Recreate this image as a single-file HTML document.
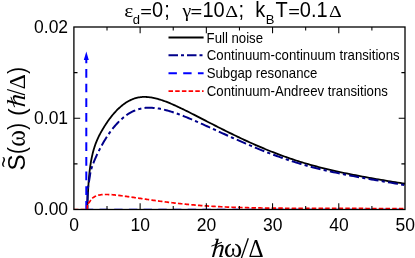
<!DOCTYPE html>
<html><head><meta charset="utf-8"><title>noise</title><style>
html,body{margin:0;padding:0;background:#fff;}
svg{display:block;will-change:transform;font-family:"Liberation Sans",sans-serif;fill:#000;}
.gr{font-family:"Liberation Serif",serif;}
</style></head><body>
<svg width="415" height="258" viewBox="0 0 415 258">
<rect width="415" height="258" fill="#fff"/>
<path d="M73.90 209.20 H87.30" stroke="#f00" stroke-width="1.5" stroke-opacity="0.5" stroke-dasharray="4.5 2.2" fill="none"/>
<path d="M87.30 209.20 H405.00" stroke="#00f" stroke-width="1.5" stroke-opacity="0.5" stroke-dasharray="8.4 6.3" stroke-dashoffset="2.5" fill="none"/>
<path d="M87.30 209.50 L87.30 209.16 L87.32 208.56 L87.34 207.73 L87.38 206.67 L87.42 205.42 L87.47 203.98 L87.53 202.39 L87.60 200.64 L87.68 198.77 L87.77 196.80 L87.87 194.74 L87.98 192.61 L88.10 190.42 L88.23 188.21 L88.37 185.98 L88.51 183.76 L88.67 181.56 L88.83 179.40 L89.01 177.31 L89.19 175.29 L89.39 173.35 L89.59 171.47 L89.81 169.66 L90.03 167.92 L90.26 166.23 L90.50 164.59 L90.75 163.00 L91.01 161.46 L91.28 159.95 L91.56 158.50 L91.85 157.08 L92.15 155.70 L92.46 154.35 L92.77 153.04 L93.10 151.77 L93.44 150.53 L93.78 149.32 L94.14 148.14 L94.50 146.99 L94.88 145.86 L95.26 144.76 L95.65 143.68 L96.06 142.62 L96.47 141.59 L96.89 140.57 L97.32 139.57 L97.76 138.59 L98.21 137.62 L98.67 136.66 L99.14 135.71 L99.62 134.78 L100.11 133.85 L100.60 132.92 L101.11 132.01 L101.63 131.09 L102.15 130.18 L102.69 129.27 L103.23 128.36 L103.79 127.44 L104.35 126.53 L104.92 125.62 L105.51 124.71 L106.10 123.81 L106.70 122.90 L107.31 122.00 L107.93 121.11 L108.56 120.22 L109.20 119.34 L109.85 118.46 L110.51 117.59 L111.17 116.73 L111.85 115.88 L112.54 115.04 L113.23 114.21 L113.94 113.39 L114.66 112.58 L115.38 111.78 L116.11 111.00 L116.86 110.23 L117.61 109.47 L118.37 108.73 L119.15 108.01 L119.93 107.30 L120.72 106.61 L121.52 105.93 L122.33 105.28 L123.15 104.64 L123.98 104.03 L124.81 103.43 L125.66 102.86 L126.52 102.31 L127.39 101.78 L128.26 101.27 L129.15 100.79 L130.04 100.34 L130.95 99.91 L131.86 99.50 L132.79 99.12 L133.72 98.77 L134.66 98.45 L135.61 98.16 L136.57 97.90 L137.54 97.66 L138.53 97.46 L139.52 97.29 L140.51 97.15 L141.52 97.05 L142.54 96.97 L143.57 96.93 L144.61 96.92 L145.65 96.94 L146.71 96.99 L147.77 97.06 L148.85 97.17 L149.93 97.30 L151.03 97.46 L152.13 97.64 L153.24 97.85 L154.37 98.09 L155.50 98.35 L156.64 98.63 L157.79 98.94 L158.95 99.27 L160.12 99.63 L161.30 100.00 L162.49 100.40 L163.69 100.81 L164.90 101.25 L166.11 101.71 L167.34 102.18 L168.58 102.67 L169.82 103.18 L171.08 103.71 L172.34 104.25 L173.61 104.81 L174.90 105.38 L176.19 105.97 L177.49 106.57 L178.81 107.19 L180.13 107.82 L181.46 108.46 L182.80 109.11 L184.15 109.77 L185.51 110.45 L186.88 111.13 L188.25 111.82 L189.64 112.52 L191.04 113.23 L192.45 113.94 L193.86 114.67 L195.29 115.40 L196.72 116.13 L198.17 116.87 L199.62 117.62 L201.08 118.37 L202.56 119.13 L204.04 119.89 L205.53 120.66 L207.03 121.43 L208.54 122.21 L210.06 122.99 L211.59 123.78 L213.13 124.56 L214.68 125.35 L216.24 126.15 L217.81 126.94 L219.38 127.74 L220.97 128.54 L222.57 129.35 L224.17 130.15 L225.79 130.96 L227.41 131.76 L229.05 132.57 L230.69 133.38 L232.34 134.18 L234.00 134.99 L235.68 135.80 L237.36 136.61 L239.05 137.41 L240.75 138.22 L242.46 139.02 L244.18 139.82 L245.91 140.62 L247.64 141.42 L249.39 142.21 L251.15 143.01 L252.92 143.80 L254.69 144.58 L256.48 145.36 L258.27 146.14 L260.08 146.92 L261.89 147.69 L263.71 148.45 L265.55 149.21 L267.39 149.97 L269.24 150.72 L271.10 151.47 L272.97 152.21 L274.85 152.94 L276.74 153.66 L278.64 154.38 L280.55 155.10 L282.47 155.80 L284.40 156.50 L286.33 157.19 L288.28 157.87 L290.24 158.55 L292.20 159.21 L294.18 159.87 L296.16 160.51 L298.15 161.15 L300.16 161.78 L302.17 162.40 L304.19 163.01 L306.22 163.61 L308.27 164.20 L310.32 164.78 L312.38 165.35 L314.45 165.91 L316.53 166.47 L318.61 167.01 L320.71 167.55 L322.82 168.08 L324.94 168.61 L327.06 169.12 L329.20 169.63 L331.34 170.13 L333.50 170.63 L335.66 171.12 L337.84 171.60 L340.02 172.07 L342.21 172.54 L344.42 173.01 L346.63 173.47 L348.85 173.92 L351.08 174.37 L353.32 174.81 L355.57 175.25 L357.83 175.68 L360.10 176.11 L362.38 176.54 L364.66 176.96 L366.96 177.38 L369.27 177.80 L371.58 178.21 L373.91 178.62 L376.24 179.02 L378.59 179.43 L380.94 179.83 L383.30 180.23 L385.68 180.63 L388.06 181.02 L390.45 181.41 L392.85 181.81 L395.26 182.20 L397.68 182.59 L400.11 182.98 L402.55 183.37 L405.00 183.76" stroke="#000" stroke-width="1.8" fill="none"/>
<path d="M87.30 209.50 L87.30 206.44 L87.32 203.67 L87.34 201.17 L87.38 198.93 L87.42 196.91 L87.47 195.11 L87.53 193.49 L87.60 192.04 L87.68 190.74 L87.77 189.57 L87.87 188.51 L87.98 187.53 L88.10 186.61 L88.23 185.74 L88.37 184.90 L88.51 184.06 L88.67 183.20 L88.83 182.30 L89.01 181.34 L89.19 180.31 L89.39 179.17 L89.59 177.92 L89.81 176.52 L90.03 174.97 L90.26 173.43 L90.50 172.08 L90.75 170.91 L91.01 169.88 L91.28 168.96 L91.56 168.10 L91.85 167.26 L92.15 166.42 L92.46 165.57 L92.77 164.72 L93.10 163.86 L93.44 162.99 L93.78 162.12 L94.14 161.24 L94.50 160.36 L94.88 159.47 L95.26 158.58 L95.65 157.68 L96.06 156.77 L96.47 155.86 L96.89 154.95 L97.32 154.03 L97.76 153.11 L98.21 152.19 L98.67 151.26 L99.14 150.33 L99.62 149.39 L100.11 148.45 L100.60 147.51 L101.11 146.56 L101.63 145.61 L102.15 144.66 L102.69 143.71 L103.23 142.76 L103.79 141.81 L104.35 140.86 L104.92 139.91 L105.51 138.96 L106.10 138.02 L106.70 137.08 L107.31 136.14 L107.93 135.20 L108.56 134.28 L109.20 133.35 L109.85 132.44 L110.51 131.53 L111.17 130.63 L111.85 129.73 L112.54 128.85 L113.23 127.97 L113.94 127.11 L114.66 126.25 L115.38 125.41 L116.11 124.58 L116.86 123.76 L117.61 122.95 L118.37 122.16 L119.15 121.38 L119.93 120.62 L120.72 119.88 L121.52 119.15 L122.33 118.43 L123.15 117.74 L123.98 117.06 L124.81 116.40 L125.66 115.76 L126.52 115.14 L127.39 114.54 L128.26 113.96 L129.15 113.41 L130.04 112.87 L130.95 112.36 L131.86 111.88 L132.79 111.41 L133.72 110.98 L134.66 110.56 L135.61 110.18 L136.57 109.82 L137.54 109.49 L138.53 109.19 L139.52 108.91 L140.51 108.67 L141.52 108.45 L142.54 108.26 L143.57 108.10 L144.61 107.97 L145.65 107.87 L146.71 107.79 L147.77 107.74 L148.85 107.72 L149.93 107.72 L151.03 107.75 L152.13 107.80 L153.24 107.88 L154.37 107.98 L155.50 108.10 L156.64 108.25 L157.79 108.42 L158.95 108.61 L160.12 108.82 L161.30 109.05 L162.49 109.31 L163.69 109.58 L164.90 109.87 L166.11 110.19 L167.34 110.52 L168.58 110.87 L169.82 111.23 L171.08 111.62 L172.34 112.02 L173.61 112.44 L174.90 112.87 L176.19 113.32 L177.49 113.79 L178.81 114.27 L180.13 114.76 L181.46 115.27 L182.80 115.79 L184.15 116.32 L185.51 116.87 L186.88 117.43 L188.25 117.99 L189.64 118.57 L191.04 119.16 L192.45 119.77 L193.86 120.38 L195.29 120.99 L196.72 121.62 L198.17 122.26 L199.62 122.90 L201.08 123.55 L202.56 124.21 L204.04 124.88 L205.53 125.55 L207.03 126.23 L208.54 126.91 L210.06 127.60 L211.59 128.30 L213.13 129.00 L214.68 129.71 L216.24 130.42 L217.81 131.13 L219.38 131.85 L220.97 132.57 L222.57 133.30 L224.17 134.03 L225.79 134.76 L227.41 135.50 L229.05 136.23 L230.69 136.97 L232.34 137.72 L234.00 138.46 L235.68 139.20 L237.36 139.95 L239.05 140.69 L240.75 141.44 L242.46 142.18 L244.18 142.93 L245.91 143.68 L247.64 144.42 L249.39 145.16 L251.15 145.91 L252.92 146.65 L254.69 147.38 L256.48 148.12 L258.27 148.85 L260.08 149.58 L261.89 150.31 L263.71 151.04 L265.55 151.76 L267.39 152.47 L269.24 153.18 L271.10 153.89 L272.97 154.59 L274.85 155.29 L276.74 155.98 L278.64 156.67 L280.55 157.35 L282.47 158.02 L284.40 158.69 L286.33 159.35 L288.28 160.01 L290.24 160.65 L292.20 161.29 L294.18 161.92 L296.16 162.54 L298.15 163.16 L300.16 163.76 L302.17 164.36 L304.19 164.94 L306.22 165.52 L308.27 166.09 L310.32 166.64 L312.38 167.19 L314.45 167.72 L316.53 168.25 L318.61 168.77 L320.71 169.28 L322.82 169.78 L324.94 170.27 L327.06 170.76 L329.20 171.24 L331.34 171.71 L333.50 172.17 L335.66 172.63 L337.84 173.09 L340.02 173.53 L342.21 173.97 L344.42 174.41 L346.63 174.84 L348.85 175.27 L351.08 175.70 L353.32 176.12 L355.57 176.53 L357.83 176.95 L360.10 177.36 L362.38 177.77 L364.66 178.18 L366.96 178.58 L369.27 178.99 L371.58 179.39 L373.91 179.79 L376.24 180.20 L378.59 180.60 L380.94 181.00 L383.30 181.41 L385.68 181.81 L388.06 182.22 L390.45 182.63 L392.85 183.04 L395.26 183.45 L397.68 183.87 L400.11 184.29 L402.55 184.71 L405.00 185.14" stroke="#00008b" stroke-width="2" stroke-dasharray="10.1 3.2 3.2 3.2" stroke-dashoffset="12.2" fill="none"/>
<path d="M86.30 69.00 V77.70 M86.30 83.66 V92.36 M86.30 98.32 V107.02 M86.30 112.98 V121.68 M86.30 127.64 V136.34 M86.30 142.30 V151.00 M86.30 156.96 V165.66 M86.30 171.62 V180.32 M86.30 186.28 V194.98 M86.30 200.94 V209.50 M86.30 58 V63.2" stroke="#00f" stroke-width="2" fill="none"/>
<path d="M86.30 51.6 l-2.5 8.4 h5 z" fill="#00f"/>
<path d="M87.30 209.50 L87.30 208.01 L87.32 206.77 L87.34 205.75 L87.38 204.92 L87.42 204.28 L87.47 203.79 L87.53 203.44 L87.60 203.21 L87.68 203.07 L87.77 203.01 L87.87 203.00 L87.98 203.02 L88.10 203.06 L88.23 203.09 L88.37 203.09 L88.51 203.04 L88.67 202.94 L88.83 202.80 L89.01 202.61 L89.19 202.38 L89.39 202.13 L89.59 201.84 L89.81 201.53 L90.03 201.21 L90.26 200.87 L90.50 200.52 L90.75 200.17 L91.01 199.82 L91.28 199.48 L91.56 199.14 L91.85 198.82 L92.15 198.52 L92.46 198.23 L92.77 197.95 L93.10 197.68 L93.44 197.43 L93.78 197.19 L94.14 196.96 L94.50 196.74 L94.88 196.54 L95.26 196.34 L95.65 196.16 L96.06 195.99 L96.47 195.83 L96.89 195.68 L97.32 195.54 L97.76 195.41 L98.21 195.29 L98.67 195.18 L99.14 195.08 L99.62 194.99 L100.11 194.91 L100.60 194.83 L101.11 194.76 L101.63 194.71 L102.15 194.65 L102.69 194.61 L103.23 194.57 L103.79 194.54 L104.35 194.52 L104.92 194.50 L105.51 194.49 L106.10 194.49 L106.70 194.49 L107.31 194.50 L107.93 194.52 L108.56 194.54 L109.20 194.56 L109.85 194.59 L110.51 194.63 L111.17 194.67 L111.85 194.72 L112.54 194.77 L113.23 194.83 L113.94 194.89 L114.66 194.96 L115.38 195.03 L116.11 195.11 L116.86 195.19 L117.61 195.27 L118.37 195.36 L119.15 195.45 L119.93 195.55 L120.72 195.65 L121.52 195.75 L122.33 195.85 L123.15 195.96 L123.98 196.07 L124.81 196.19 L125.66 196.31 L126.52 196.43 L127.39 196.55 L128.26 196.67 L129.15 196.80 L130.04 196.93 L130.95 197.06 L131.86 197.19 L132.79 197.33 L133.72 197.46 L134.66 197.60 L135.61 197.74 L136.57 197.88 L137.54 198.02 L138.53 198.17 L139.52 198.31 L140.51 198.46 L141.52 198.61 L142.54 198.76 L143.57 198.91 L144.61 199.06 L145.65 199.21 L146.71 199.36 L147.77 199.51 L148.85 199.67 L149.93 199.82 L151.03 199.98 L152.13 200.13 L153.24 200.29 L154.37 200.44 L155.50 200.60 L156.64 200.76 L157.79 200.91 L158.95 201.07 L160.12 201.22 L161.30 201.38 L162.49 201.53 L163.69 201.69 L164.90 201.84 L166.11 202.00 L167.34 202.15 L168.58 202.30 L169.82 202.45 L171.08 202.61 L172.34 202.76 L173.61 202.90 L174.90 203.05 L176.19 203.20 L177.49 203.34 L178.81 203.49 L180.13 203.63 L181.46 203.77 L182.80 203.91 L184.15 204.05 L185.51 204.19 L186.88 204.32 L188.25 204.45 L189.64 204.58 L191.04 204.71 L192.45 204.84 L193.86 204.96 L195.29 205.09 L196.72 205.21 L198.17 205.32 L199.62 205.44 L201.08 205.55 L202.56 205.66 L204.04 205.77 L205.53 205.87 L207.03 205.97 L208.54 206.07 L210.06 206.17 L211.59 206.26 L213.13 206.35 L214.68 206.44 L216.24 206.52 L217.81 206.61 L219.38 206.69 L220.97 206.76 L222.57 206.84 L224.17 206.91 L225.79 206.98 L227.41 207.05 L229.05 207.11 L230.69 207.18 L232.34 207.24 L234.00 207.30 L235.68 207.35 L237.36 207.41 L239.05 207.46 L240.75 207.51 L242.46 207.56 L244.18 207.61 L245.91 207.65 L247.64 207.69 L249.39 207.74 L251.15 207.78 L252.92 207.81 L254.69 207.85 L256.48 207.88 L258.27 207.92 L260.08 207.95 L261.89 207.98 L263.71 208.01 L265.55 208.03 L267.39 208.06 L269.24 208.08 L271.10 208.10 L272.97 208.13 L274.85 208.15 L276.74 208.17 L278.64 208.18 L280.55 208.20 L282.47 208.22 L284.40 208.23 L286.33 208.25 L288.28 208.26 L290.24 208.27 L292.20 208.28 L294.18 208.29 L296.16 208.30 L298.15 208.31 L300.16 208.32 L302.17 208.33 L304.19 208.34 L306.22 208.34 L308.27 208.35 L310.32 208.35 L312.38 208.36 L314.45 208.36 L316.53 208.37 L318.61 208.37 L320.71 208.38 L322.82 208.38 L324.94 208.38 L327.06 208.39 L329.20 208.39 L331.34 208.40 L333.50 208.40 L335.66 208.40 L337.84 208.41 L340.02 208.41 L342.21 208.41 L344.42 208.42 L346.63 208.42 L348.85 208.43 L351.08 208.43 L353.32 208.44 L355.57 208.44 L357.83 208.45 L360.10 208.45 L362.38 208.46 L364.66 208.47 L366.96 208.48 L369.27 208.49 L371.58 208.50 L373.91 208.51 L376.24 208.52 L378.59 208.53 L380.94 208.54 L383.30 208.56 L385.68 208.57 L388.06 208.59 L390.45 208.60 L392.85 208.62 L395.26 208.64 L397.68 208.66 L400.11 208.68 L402.55 208.70 L405.00 208.73" stroke="#f00" stroke-width="1.7" stroke-dasharray="4.5 2.2" fill="none"/>
<rect x="73.90" y="27.00" width="331.10" height="182.50" fill="none" stroke="#000" stroke-width="1.3"/>
<path d="M107.01 209.50 v-3.60 M107.01 27.00 v3.60 M140.12 209.50 v-6.30 M140.12 27.00 v6.30 M173.23 209.50 v-3.60 M173.23 27.00 v3.60 M206.34 209.50 v-6.30 M206.34 27.00 v6.30 M239.45 209.50 v-3.60 M239.45 27.00 v3.60 M272.56 209.50 v-6.30 M272.56 27.00 v6.30 M305.67 209.50 v-3.60 M305.67 27.00 v3.60 M338.78 209.50 v-6.30 M338.78 27.00 v6.30 M371.89 209.50 v-3.60 M371.89 27.00 v3.60 M73.90 163.88 h3.60 M405.00 163.88 h-3.60 M73.90 118.25 h6.30 M405.00 118.25 h-6.30 M73.90 72.62 h3.60 M405.00 72.62 h-3.60" stroke="#000" stroke-width="1.05" fill="none"/>
<g font-size="17.5"><text transform="translate(74.10 230.8) scale(1 1.060)" text-anchor="middle">0</text><text transform="translate(140.32 230.8) scale(1 1.060)" text-anchor="middle">10</text><text transform="translate(206.54 230.8) scale(1 1.060)" text-anchor="middle">20</text><text transform="translate(272.76 230.8) scale(1 1.060)" text-anchor="middle">30</text><text transform="translate(338.98 230.8) scale(1 1.060)" text-anchor="middle">40</text><text transform="translate(405.20 230.8) scale(1 1.060)" text-anchor="middle">50</text><text transform="translate(68.1 214.80) scale(1 1.060)" text-anchor="end">0.00</text><text transform="translate(68.1 124.00) scale(1 1.060)" text-anchor="end">0.01</text><text transform="translate(68.1 33.30) scale(1 1.060)" text-anchor="end">0.02</text></g>
<path d="M168.5 37.5 H203.6" stroke="#000" stroke-width="1.8"/>
<path d="M168.5 55.3 H203.6" stroke="#00008b" stroke-width="2" stroke-dasharray="9.5 3 3 3"/>
<path d="M168.5 73.3 H203.6" stroke="#00f" stroke-width="2" stroke-dasharray="8.4 6.3"/>
<path d="M168.5 91.2 H203.6" stroke="#f00" stroke-width="1.7" stroke-dasharray="4.5 2.2"/>
<g><text transform="translate(206.61 42.50) scale(1.0000 1.0400)" font-size="13.2" xml:space="preserve">Full noise</text><text transform="translate(206.83 60.30) scale(1.0000 1.0400)" font-size="13.2" xml:space="preserve">Continuum-continuum transitions</text><text transform="translate(206.68 78.30) scale(1.0000 1.0400)" font-size="13.2" xml:space="preserve">Subgap resonance</text><text transform="translate(206.83 96.20) scale(1.0000 1.0400)" font-size="13.2" xml:space="preserve">Continuum-Andreev transitions</text></g>
<g><text transform="translate(124.16 16.70) scale(1.0743 0.9921)" font-size="20" class="gr" xml:space="preserve">ε</text><text transform="translate(132.65 24.00) scale(1.0000 1.0400)" font-size="13" xml:space="preserve">d</text><text transform="translate(140.13 16.64) scale(1.0000 0.7844)" font-size="20" xml:space="preserve">=</text><text transform="translate(151.94 16.70) scale(1.0000 1.0850)" font-size="20" xml:space="preserve">0</text><text transform="translate(164.20 16.70) scale(1.0000 1.0850)" font-size="20" xml:space="preserve">;</text><text transform="translate(182.39 16.70) scale(0.9947 0.9900)" font-size="20" class="gr" xml:space="preserve">γ</text><text transform="translate(190.43 16.64) scale(1.0000 0.7844)" font-size="20" xml:space="preserve">=</text><text transform="translate(202.43 16.70) scale(1.0000 1.0850)" font-size="20" xml:space="preserve">10</text><text transform="translate(225.24 16.70) scale(0.9999 0.8357)" font-size="20" class="gr" xml:space="preserve">Δ</text><text transform="translate(238.50 16.70) scale(1.0000 1.0850)" font-size="20" xml:space="preserve">;</text><text transform="translate(255.21 16.70) scale(1.0000 1.0850)" font-size="20" xml:space="preserve">k</text><text transform="translate(265.71 23.60) scale(1.0000 1.0400)" font-size="13" xml:space="preserve">B</text><text transform="translate(275.50 16.70) scale(1.0000 1.0850)" font-size="20" xml:space="preserve">T</text><text transform="translate(288.33 16.64) scale(1.0000 0.7844)" font-size="20" xml:space="preserve">=</text><text transform="translate(299.84 16.70) scale(1.0000 1.0850)" font-size="20" xml:space="preserve">0.1</text><text transform="translate(329.05 16.70) scale(0.9912 0.8357)" font-size="20" class="gr" xml:space="preserve">Δ</text></g>
<g><text transform="translate(211.06 256.90) skewX(-5) scale(1.0953 1.0937)" font-size="24" class="gr" style="font-style:italic" xml:space="preserve">h</text><path d="M211.40 246.14 L221.92 242.29" stroke="#000" stroke-width="1.0" fill="none"/><text transform="translate(223.78 256.70) scale(1.1785 1.1102)" font-size="24" class="gr" xml:space="preserve">ω</text><path d="M240.9 259.5 L248.3 238.3" stroke="#000" stroke-width="1.3" fill="none"/><text transform="translate(248.48 256.70) scale(0.9800 1.0267)" font-size="24" class="gr" xml:space="preserve">Δ</text></g>
<g transform="rotate(-90)"><text transform="translate(-170.39 24.80) scale(1.0245 1.0235)" font-size="23.5" xml:space="preserve">S</text><text transform="translate(-167.52 10.89) scale(0.8026 0.9420)" font-size="23.5" xml:space="preserve">~</text><text transform="translate(-154.12 24.59) scale(0.8795 1.0223)" font-size="23.5" xml:space="preserve">(</text><text transform="translate(-146.81 24.80) scale(1.0523 1.1745)" font-size="24" class="gr" xml:space="preserve">ω</text><text transform="translate(-129.69 24.77) scale(0.8666 0.9870)" font-size="23.5" xml:space="preserve">)</text><text transform="translate(-115.69 24.59) scale(0.9303 1.0223)" font-size="23.5" xml:space="preserve">(</text><text transform="translate(-107.52 25.20) skewX(-5) scale(1.0757 1.0750)" font-size="24" class="gr" style="font-style:italic" xml:space="preserve">h</text><path d="M-107.20 14.62 L-96.86 10.84" stroke="#000" stroke-width="1.0" fill="none"/><path d="M-94.9 24.9 L-89.5 7.1" stroke="#000" stroke-width="1.25" fill="none"/><text transform="translate(-89.43 24.80) scale(0.9945 0.9933)" font-size="24" class="gr" xml:space="preserve">Δ</text><text transform="translate(-73.69 24.77) scale(0.8666 0.9870)" font-size="23.5" xml:space="preserve">)</text></g>
</svg>
</body></html>
